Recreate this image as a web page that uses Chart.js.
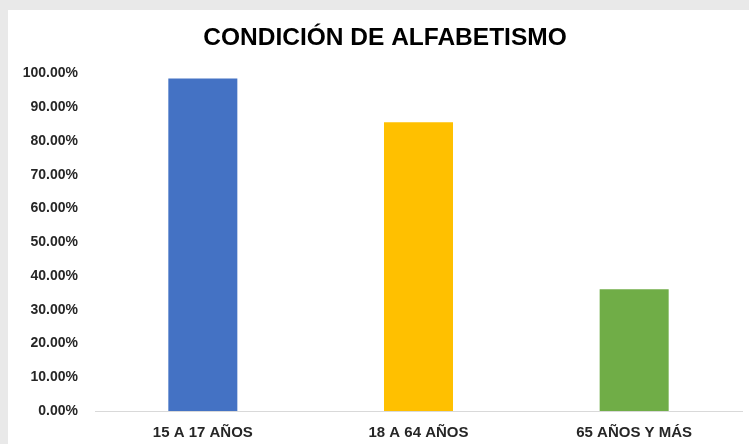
<!DOCTYPE html>
<html>
<head>
<meta charset="utf-8">
<script src="https://cdn.jsdelivr.net/npm/chart.js@4"></script>
<style>
    html, body { margin: 0; padding: 0; }
    body { width: 749px; height: 444px; background: #e9e9e9; position: relative; overflow: hidden; }
    #box { position: absolute; left: 8px; top: 10px; width: 741px; height: 434px; background: #ffffff; }
</style>
</head>
<body>
<div id="box"><canvas id="myChart" width="741" height="434"></canvas></div>
<script>
const categories = ['15 A 17 AÑOS', '18 A 64 AÑOS', '65 AÑOS Y MÁS'];
const values = [0.985, 0.855, 0.361];
const barColors = ['#4472c4', '#ffc000', '#70ad47'];

const font = 'Liberation Sans, Arial, sans-serif';

// nudge the title a little to the right of the canvas centre
const titleShift = {
    id: 'titleShift',
    afterLayout(chart) {
        if (chart.titleBlock) {
            chart.titleBlock.left += 10;
            chart.titleBlock.right += 10;
        }
    }
};

const ctx = document.getElementById('myChart').getContext('2d');
const chart = new Chart(ctx, {
    type: 'bar',
    data: {
        labels: categories,
        datasets: [{
            data: values,
            backgroundColor: barColors,
            borderWidth: 0,
            barPercentage: 0.32,
            categoryPercentage: 1
        }]
    },
    plugins: [titleShift],
    options: {
        responsive: false,
        animation: false,
        layout: { padding: { left: 0, right: 7, top: 0, bottom: 0 } },
        plugins: {
            legend: { display: false },
            tooltip: { enabled: false },
            title: {
                display: true,
                text: 'CONDICIÓN DE ALFABETISMO',
                color: '#000000',
                font: { family: font, size: 24.5, weight: 'bold' },
                padding: { top: 14, bottom: 20 }
            }
        },
        scales: {
            x: {
                grid: { display: false, drawTicks: false },
                border: { display: true, color: '#d9d9d9', width: 1 },
                ticks: {
                    color: '#262626',
                    padding: 13,
                    font: { family: font, size: 15, weight: 'bold' }
                },
                afterFit: function(axis) { axis.height = 33; }
            },
            y: {
                min: 0,
                max: 1,
                grid: { display: false, drawTicks: false },
                border: { display: false },
                ticks: {
                    stepSize: 0.1,
                    color: '#262626',
                    padding: 17,
                    font: { family: font, size: 14, weight: 'bold' },
                    callback: function(v) { return (v * 100).toFixed(2) + '%'; }
                },
                afterFit: function(axis) { axis.width = 87; }
            }
        }
    }
});
</script>
</body>
</html>
